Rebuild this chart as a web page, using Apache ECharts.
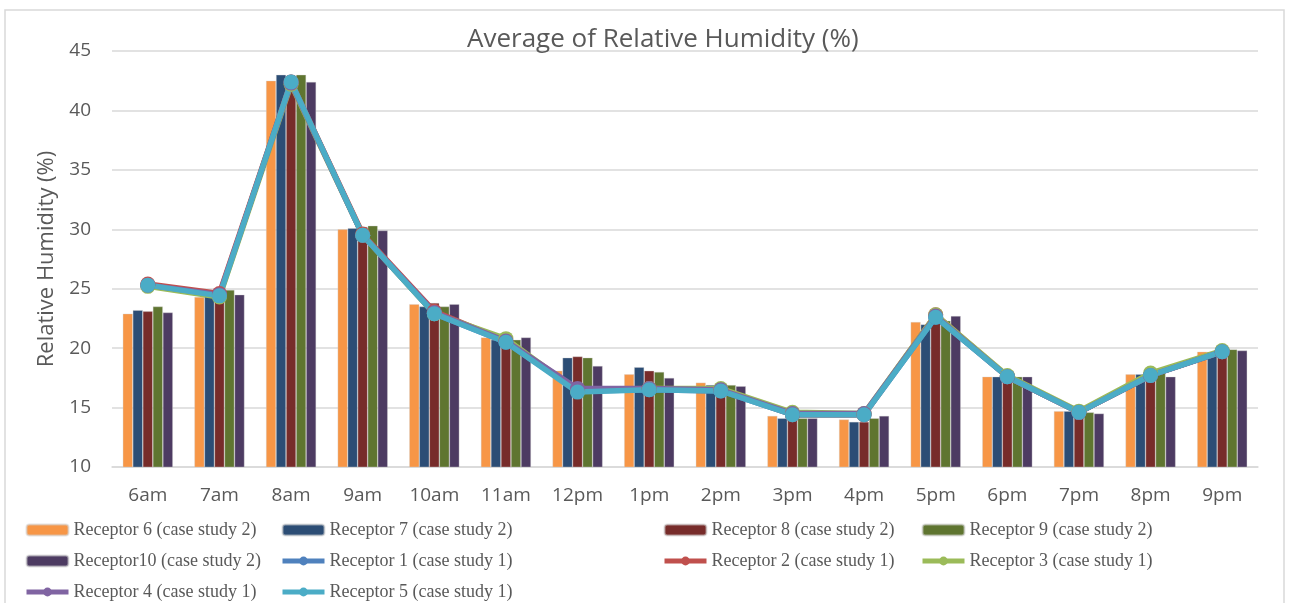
<!DOCTYPE html>
<html>
<head>
<meta charset="utf-8">
<script src="https://cdn.jsdelivr.net/npm/echarts@6/dist/echarts.min.js"></script>
<style>
  html, body { margin: 0; padding: 0; background: #fff; }
  #chart { width: 1289px; height: 603px; }
</style>
</head>
<body>
<div id="chart"></div>
<script>
// hours on the category axis
const hours = ['6am', '7am', '8am', '9am', '10am', '11am', '12pm', '1pm', '2pm', '3pm', '4pm', '5pm', '6pm', '7pm', '8pm', '9pm'];

// case study 2 (bars)
const receptor6 = [22.9, 24.3, 42.5, 30.0, 23.7, 20.9, 18.1, 17.8, 17.1, 14.3, 14.0, 22.2, 17.6, 14.7, 17.8, 19.7];
const receptor7 = [23.2, 24.5, 43.0, 30.1, 23.5, 20.7, 19.2, 18.4, 16.9, 14.1, 13.8, 22.0, 17.6, 14.7, 17.8, 19.7];
const receptor8 = [23.1, 24.2, 42.9, 30.2, 23.8, 20.6, 19.3, 18.1, 16.8, 14.2, 13.8, 22.8, 17.6, 14.5, 17.7, 19.8];
const receptor9 = [23.5, 24.9, 43.0, 30.3, 23.5, 20.7, 19.2, 18.0, 16.9, 14.1, 14.1, 22.3, 17.6, 14.6, 17.9, 19.9];
const receptor10 = [23.0, 24.5, 42.4, 29.9, 23.7, 20.9, 18.5, 17.5, 16.8, 14.1, 14.3, 22.7, 17.6, 14.5, 17.6, 19.8];

// case study 1 (lines)
const receptor1 = [25.3, 24.4, 42.4, 29.5, 22.9, 20.5, 16.4, 16.5, 16.4, 14.4, 14.4, 22.6, 17.6, 14.6, 17.7, 19.7];
const receptor2 = [25.4, 24.6, 42.4, 29.6, 23.1, 20.6, 16.5, 16.6, 16.5, 14.4, 14.4, 22.8, 17.6, 14.6, 17.7, 19.7];
const receptor3 = [25.2, 24.3, 42.2, 29.5, 22.9, 20.8, 16.4, 16.6, 16.6, 14.6, 14.5, 22.8, 17.7, 14.7, 17.9, 19.8];
const receptor4 = [25.3, 24.5, 42.3, 29.5, 23.0, 20.6, 16.6, 16.6, 16.5, 14.5, 14.5, 22.7, 17.6, 14.6, 17.7, 19.7];
const receptor5 = [25.3, 24.4, 42.4, 29.5, 22.9, 20.5, 16.3, 16.5, 16.4, 14.4, 14.4, 22.6, 17.6, 14.6, 17.7, 19.7];

const chart = echarts.init(document.getElementById('chart'));

function barSeries(name, data, color) {
    return {
        name: name,
        type: 'bar',
        data: data,
        barGap: '0%',
        barCategoryGap: '30%',
        itemStyle: { color: color, borderColor: 'rgba(210,210,210,0.6)', borderWidth: 0.6 }
    };
}

function lineSeries(name, data, color) {
    return {
        name: name,
        type: 'line',
        data: data,
        symbol: 'circle',
        symbolSize: 15,
        lineStyle: { color: color, width: 5.5 },
        itemStyle: { color: color }
    };
}

const legendText = { fontFamily: 'Liberation Serif', fontSize: 18, color: '#595959', lineHeight: 20 };

// one vertical legend per column, like the four columns of the reference
function legendColumn(left, names) {
    return {
        orient: 'vertical',
        left: left,
        top: 520,
        padding: 0,
        itemWidth: 42,
        itemHeight: 11,
        itemGap: 11,
        data: names,
        lineStyle: { width: 5 },
        textStyle: legendText
    };
}

const option = {
    animation: false,
    backgroundColor: '#fff',
    title: {
        text: 'Average of Relative Humidity (%)',
        left: 467,
        top: 27,
        padding: 0,
        textStyle: { fontFamily: 'Open Sans', fontSize: 26, fontWeight: 'normal', color: '#595959' }
    },
    graphic: [{
        type: 'rect',
        shape: { x: 5, y: 10, width: 1279, height: 600 },
        style: { fill: 'none', stroke: '#D9D9D9', lineWidth: 1.5 },
        silent: true
    }],
    legend: [
        legendColumn(24, ['Receptor 6 (case study 2)', 'Receptor10 (case study 2)', 'Receptor 4 (case study 1)']),
        legendColumn(280, ['Receptor 7 (case study 2)', 'Receptor 1 (case study 1)', 'Receptor 5 (case study 1)']),
        legendColumn(662, ['Receptor 8 (case study 2)', 'Receptor 2 (case study 1)']),
        legendColumn(920, ['Receptor 9 (case study 2)', 'Receptor 3 (case study 1)'])
    ],
    grid: { left: 112, right: 31, top: 51, bottom: 136 },
    xAxis: {
        type: 'category',
        data: hours,
        axisTick: { show: false },
        axisLine: { lineStyle: { color: '#D9D9D9', width: 1.5 } },
        axisLabel: { fontFamily: 'Open Sans', fontSize: 19, color: '#595959', margin: 19 }
    },
    yAxis: {
        type: 'value',
        min: 10,
        max: 45,
        interval: 5,
        name: 'Relative Humidity (%)',
        nameLocation: 'middle',
        nameGap: 54,
        nameTextStyle: { fontFamily: 'Open Sans', fontSize: 22, color: '#595959' },
        axisLine: { show: false },
        axisTick: { show: false },
        axisLabel: { fontFamily: 'Open Sans', fontSize: 19, color: '#595959', margin: 21 },
        splitLine: { lineStyle: { color: '#D9D9D9', width: 1.5 } }
    },
    series: [
        barSeries('Receptor 6 (case study 2)', receptor6, '#F79646'),
        barSeries('Receptor 7 (case study 2)', receptor7, '#2C4D75'),
        barSeries('Receptor 8 (case study 2)', receptor8, '#772C2A'),
        barSeries('Receptor 9 (case study 2)', receptor9, '#5F7530'),
        barSeries('Receptor10 (case study 2)', receptor10, '#4D3B62'),
        lineSeries('Receptor 1 (case study 1)', receptor1, '#4F81BD'),
        lineSeries('Receptor 2 (case study 1)', receptor2, '#C0504D'),
        lineSeries('Receptor 3 (case study 1)', receptor3, '#9BBB59'),
        lineSeries('Receptor 4 (case study 1)', receptor4, '#8064A2'),
        lineSeries('Receptor 5 (case study 1)', receptor5, '#4BACC6')
    ]
};

chart.setOption(option);
</script>
</body>
</html>
